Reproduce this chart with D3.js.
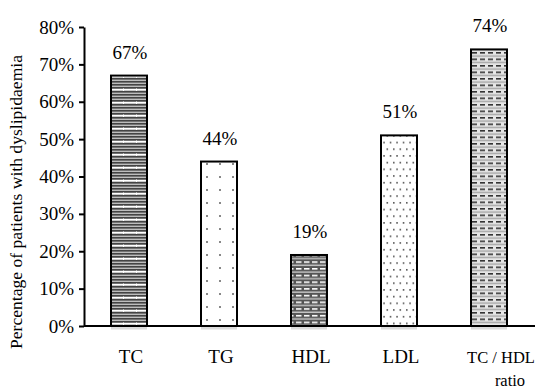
<!DOCTYPE html>
<html><head><meta charset="utf-8">
<script src="https://cdn.jsdelivr.net/npm/d3@7"></script>
<style>
body{margin:0;background:#fff;}
svg text{font-family:"Liberation Serif","Times New Roman",Times,serif !important;}
</style></head>
<body><svg id="c" width="536" height="389"></svg>
<script>
const categories = ["TC","TG","HDL","LDL","TC / HDL ratio"];
const values = [0.67, 0.44, 0.19, 0.51, 0.74];
const valueLabels = ["67%","44%","19%","51%","74%"];
const yTicks = [0,0.1,0.2,0.3,0.4,0.5,0.6,0.7,0.8];
const yTitle = "Percentage of patients with dyslipidaemia";

const svg = d3.select("#c");
const defs = svg.append("defs");

// TC: dense horizontal stripes with brick breaks
let p = defs.append("pattern").attr("id","p0").attr("patternUnits","userSpaceOnUse").attr("width",13).attr("height",13);
p.append("rect").attr("width",13).attr("height",13).attr("fill","#bdbdbd");
[0,3,6,9].forEach(y=>p.append("rect").attr("x",0).attr("y",y).attr("width",13).attr("height",1.6).attr("fill","#444"));
p.append("rect").attr("x",0).attr("y",11).attr("width",13).attr("height",1.2).attr("fill","#fff");
p.append("rect").attr("x",6).attr("y",10.5).attr("width",1).attr("height",2.5).attr("fill","#fff");

// TG: sparse dots
p = defs.append("pattern").attr("id","p1").attr("patternUnits","userSpaceOnUse").attr("width",13).attr("height",13).attr("x",6).attr("y",2);
p.append("rect").attr("width",13).attr("height",13).attr("fill","#fff");
p.append("rect").attr("x",5).attr("y",5).attr("width",2).attr("height",2).attr("fill","#888");

// HDL: dark with white dashes
p = defs.append("pattern").attr("id","p2").attr("patternUnits","userSpaceOnUse").attr("width",8).attr("height",6.7);
p.append("rect").attr("width",8).attr("height",6.7).attr("fill","#555");
p.append("rect").attr("x",0).attr("y",0).attr("width",5.5).attr("height",1.6).attr("fill","#fff");
p.append("rect").attr("x",0).attr("y",3.4).attr("width",8).attr("height",1.2).attr("fill","#ddd");

// LDL: staggered dots
p = defs.append("pattern").attr("id","p3").attr("patternUnits","userSpaceOnUse").attr("width",13).attr("height",13.4).attr("x",2);
p.append("rect").attr("width",13).attr("height",13.4).attr("fill","#fff");
[[1,1],[7.5,1],[4.25,7.7],[10.75,7.7]].forEach(([a,b])=>p.append("rect").attr("x",a).attr("y",b).attr("width",1.6).attr("height",1.6).attr("fill","#555"));

// TC/HDL: dots and dashes
p = defs.append("pattern").attr("id","p4").attr("patternUnits","userSpaceOnUse").attr("width",8).attr("height",6.5);
p.append("rect").attr("width",8).attr("height",6.5).attr("fill","#e6e6e6");
p.append("rect").attr("x",0).attr("y",0).attr("width",5).attr("height",1.6).attr("fill","#333");
[0.5,2.5,4.5,6.5].forEach(x=>p.append("rect").attr("x",x).attr("y",3.3).attr("width",1).attr("height",1.5).attr("fill","#666"));

const x = d3.scaleBand().domain(categories).range([84,534]).paddingInner(0.6).paddingOuter(0.3);
const y = d3.scaleLinear().domain([0,0.8]).range([326,27]);

// faint shadow below bars
svg.append("g").selectAll("rect").data(categories).join("rect")
  .attr("x",d=>x(d)).attr("y",y(0)).attr("width",x.bandwidth()).attr("height",3.5).attr("fill","#dcdcdc");

// bars
svg.append("g").selectAll("rect").data(categories).join("rect")
  .attr("x",d=>x(d)).attr("y",(d,i)=>y(values[i]))
  .attr("width",x.bandwidth()).attr("height",(d,i)=>y(0)-y(values[i]))
  .attr("fill",(d,i)=>`url(#p${i})`).attr("stroke","#000").attr("stroke-width",2);

// value labels
svg.append("g").selectAll("text").data(categories).join("text")
  .attr("x",d=>x(d)+x.bandwidth()/2+1).attr("y",(d,i)=>y(values[i])-17)
  .attr("text-anchor","middle").attr("font-size",19).attr("fill","#000")
  .text((d,i)=>valueLabels[i]);

// y axis
const ya = svg.append("g").attr("transform","translate(84,0)")
  .call(d3.axisLeft(y).tickValues(yTicks).tickFormat(d3.format(".0%")).tickSize(5).tickSizeOuter(0));
ya.select(".domain").attr("stroke","#000").attr("stroke-width",2);
ya.selectAll(".tick line").attr("stroke","#000").attr("stroke-width",2);
ya.selectAll(".tick text").attr("font-size",19).attr("fill","#000").attr("x",-10);

// x axis
const xa = svg.append("g").attr("transform","translate(0,326)")
  .call(d3.axisBottom(x).tickSize(0).tickSizeOuter(0));
xa.select(".domain").attr("d","M84,0H535").attr("stroke","#000").attr("stroke-width",2);
xa.selectAll(".tick text").attr("font-size",19).attr("fill","#000")
  .each(function(d){
    const t = d3.select(this); t.text(null);
    if (d==="TC / HDL ratio") {
      t.attr("font-size",16.5);
      t.append("tspan").attr("x",12).attr("y",37).attr("dy",0).text("TC / HDL");
      t.append("tspan").attr("x",21).attr("y",60).attr("dy",0).text("ratio");
    } else {
      t.append("tspan").attr("x",2).attr("y",37).attr("dy",0).text(d);
    }
  });

// y title
svg.append("text").attr("transform","translate(22,202) rotate(-90)")
  .attr("text-anchor","middle").attr("font-size",17.6).attr("fill","#000").text(yTitle);
</script></body></html>
